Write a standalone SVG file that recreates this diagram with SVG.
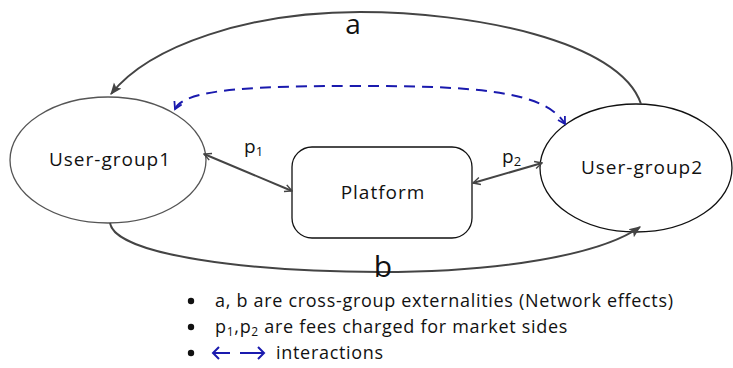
<svg xmlns="http://www.w3.org/2000/svg" width="733" height="368" viewBox="0 0 733 368">
<defs>
<style>
.t{font-family:"Open Sans","Liberation Sans",Arial,sans-serif;fill:#111}
.n{font-size:19px;letter-spacing:1px}
.l{font-size:18px;letter-spacing:0.7px}
.c{fill:none;stroke:#444;stroke-width:2}
.d{fill:none;stroke:#1a1aae;stroke-width:2;stroke-dasharray:11,7}
</style>
<marker id="ah" viewBox="0 0 10 10" refX="9" refY="5" markerWidth="12" markerHeight="12" orient="auto-start-reverse" markerUnits="userSpaceOnUse">
<path d="M0,1 L10,5 L0,9 L2,5 Z" fill="#444"/>
</marker>
<marker id="ao" viewBox="0 0 10 10" refX="9" refY="5" markerWidth="9" markerHeight="9" orient="auto-start-reverse" markerUnits="userSpaceOnUse">
<path d="M1,1 L9,5 L1,9" fill="none" stroke="#444" stroke-width="1.6"/>
</marker>
<marker id="ab" viewBox="0 0 10 10" refX="8" refY="5" markerWidth="10" markerHeight="10" orient="auto-start-reverse" markerUnits="userSpaceOnUse">
<path d="M1,1 L8,5 L1,9" fill="none" stroke="#1a1aae" stroke-width="1.8"/>
</marker>
</defs>
<rect width="733" height="368" fill="#fff"/>
<g id="user-group1">
<ellipse cx="108" cy="160" rx="98" ry="63" fill="#fff" stroke="#555" stroke-width="1.3"/>
<text class="t n" x="110" y="166" text-anchor="middle">User-group1</text>
</g>
<g id="platform">
<rect x="292" y="147" width="180" height="91" rx="20" fill="#fff" stroke="#111" stroke-width="1.3"/>
<text class="t n" x="383" y="199" text-anchor="middle">Platform</text>
</g>
<g id="user-group2">
<ellipse cx="636" cy="168" rx="96" ry="64" fill="#fff" stroke="#111" stroke-width="1.3"/>
<text class="t n" x="642" y="174" text-anchor="middle">User-group2</text>
</g>
<g id="connectors">
<path class="c" d="M641,104 C620,40 470,12 360,12 C250,12 150,45 111,94" marker-end="url(#ah)"/>
<path class="d" d="M175,109 C185,88 260,86 360,86 C470,86 545,90 565,124" marker-start="url(#ab)" marker-end="url(#ab)"/>
<path class="c" d="M110,223 C115,255 250,272 380,272 C500,272 600,255 640,227" marker-end="url(#ah)"/>
<path class="c" d="M204,154 L292,191" marker-start="url(#ao)" marker-end="url(#ao)"/>
<path class="c" d="M473,183 L542,163" marker-start="url(#ao)" marker-end="url(#ao)"/>
<text class="t" x="353" y="34" font-size="28" text-anchor="middle">a</text>
<text class="t" x="383" y="277" font-size="30" text-anchor="middle">b</text>
<text class="t" x="244" y="153" font-size="19">p<tspan font-size="13" dy="3">1</tspan></text>
<text class="t" x="502" y="163" font-size="19">p<tspan font-size="13" dy="3">2</tspan></text>
</g>
<g id="legend">
<circle cx="191" cy="301" r="3.2" fill="#111"/>
<circle cx="191" cy="327" r="3.2" fill="#111"/>
<circle cx="191" cy="353" r="3.2" fill="#111"/>
<text class="t l" x="215" y="307">a, b are cross-group externalities (Network effects)</text>
<text class="t l" x="215" y="333">p<tspan font-size="12" dy="3">1</tspan><tspan dy="-3">,p</tspan><tspan font-size="12" dy="3">2</tspan><tspan dy="-3"> are fees charged for market sides</tspan></text>
<path d="M230,353 L213,353 M219,347 L213,353 L219,359" fill="none" stroke="#1a1aae" stroke-width="2"/>
<path d="M240,353 L264,353 M258,347 L264,353 L258,359" fill="none" stroke="#1a1aae" stroke-width="2"/>
<text class="t l" x="276" y="359">interactions</text>
</g>
</svg>
